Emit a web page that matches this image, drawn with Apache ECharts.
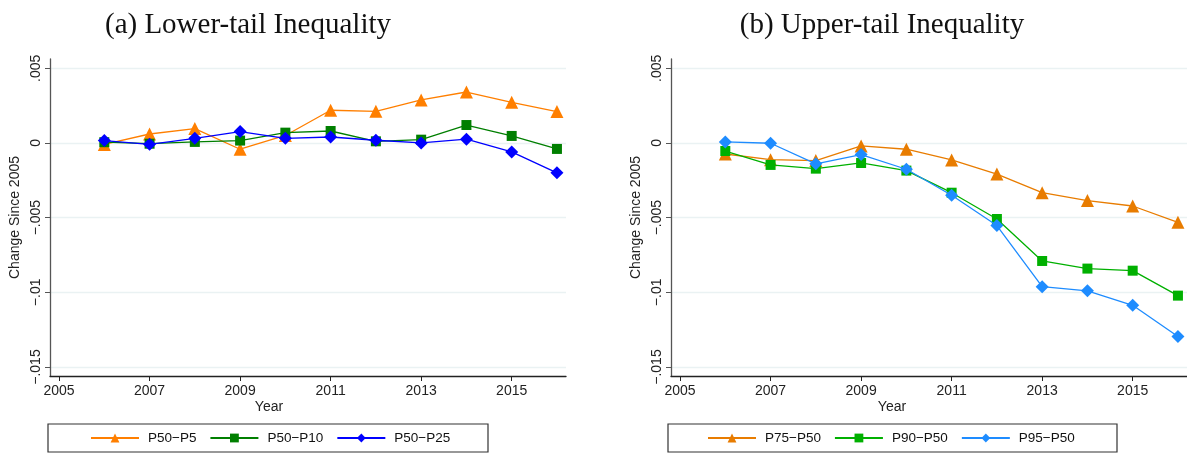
<!DOCTYPE html>
<html><head><meta charset="utf-8">
<script src="https://cdn.jsdelivr.net/npm/echarts@6/dist/echarts.min.js"></script>
<style>html,body{margin:0;padding:0;background:#fff}#c{width:1187px;height:453px}</style>
</head><body><div id="c"></div>
<script>
const years = [2006,2007,2008,2009,2010,2011,2012,2013,2014,2015,2016];
const xTicks = [2005,2007,2009,2011,2013,2015];
const yTicks = [-0.015,-0.01,-0.005,0,0.005];
const yTickLabels = ['\u2212.015','\u2212.01','\u2212.005','0','.005'];

const p50p5  = [-0.0001,0.0006,0.00096,-0.00042,0.0005,0.00219,0.00212,0.00288,0.00341,0.00272,0.0021];
const p50p10 = [0.00005,-0.00005,0.00007,0.00016,0.00069,0.0008,0.00011,0.00022,0.0012,0.00047,-0.0004];
const p50p25 = [0.00016,-0.00009,0.00031,0.00076,0.00031,0.0004,0.00018,0.0,0.00025,-0.0006,-0.002];

const p75p50 = [-0.00074,-0.00112,-0.00118,-0.0002,-0.00042,-0.00114,-0.00208,-0.00333,-0.00386,-0.00422,-0.00531];
const p90p50 = [-0.00054,-0.00147,-0.00172,-0.00134,-0.00185,-0.00333,-0.00509,-0.0079,-0.00841,-0.00855,-0.01022];
const p95p50 = [0.00007,-0.00002,-0.0014,-0.00078,-0.00176,-0.0035,-0.00553,-0.00962,-0.0099,-0.01087,-0.01296];

const titles = ['(a) Lower-tail Inequality','(b) Upper-tail Inequality'];
const names = [['P50\u2212P5','P50\u2212P10','P50\u2212P25'],['P75\u2212P50','P90\u2212P50','P95\u2212P50']];
const values = [[p50p5,p50p10,p50p25],[p75p50,p90p50,p95p50]];
const colors = [['#ff7f00','#007f00','#0000ff'],['#e87c00','#00b000','#1e8cff']];
const symbols = ['triangle','rect','diamond'];
const symSizes = [13,10,13];

const chart = echarts.init(document.getElementById('c'));
const font = 'Liberation Sans, Arial, sans-serif';
const grids = [{left:50,top:59,width:516,height:317},{left:671,top:59,width:516,height:317}];
const xAxes = [], yAxes = [], series = [], legends = [], graphics = [];
const titleX = [248, 882];
const yearX = [269, 892];
const boxes = [[48,424,440,28],[668,424,449,28]];
const legendLeft = [90, 707];

for (let g=0; g<2; g++) {
  xAxes.push({type:'value',gridIndex:g,min:2004.8,max:2016.2,
    axisLine:{show:true,onZero:false,lineStyle:{color:'#222',width:1.3}},
    axisTick:{show:true,length:5,customValues:xTicks,lineStyle:{color:'#222'}},
    axisLabel:{customValues:xTicks,color:'#222',fontSize:14,fontFamily:font,margin:8,formatter:v=>String(v)},
    splitLine:{show:false}});
  yAxes.push({type:'value',gridIndex:g,min:-0.0156,max:0.00562,
    name:'Change Since 2005',nameLocation:'middle',nameGap:28,
    nameTextStyle:{color:'#222',fontSize:14,fontFamily:font},
    axisLine:{show:true,onZero:false,lineStyle:{color:'#555',width:1.3}},
    axisTick:{show:true,length:5,customValues:yTicks,lineStyle:{color:'#555'}},
    axisLabel:{customValues:yTicks,rotate:90,color:'#222',fontSize:14,fontFamily:font,margin:7,
      formatter:v=>{const i=yTicks.findIndex(t=>Math.abs(t-v)<1e-9);return i>=0?yTickLabels[i]:'';}},
    splitLine:{show:true,lineStyle:{color:'#eaf2f3',width:1.3}}});
  for (let s=0; s<3; s++) {
    series.push({type:'line',name:names[g][s],xAxisIndex:g,yAxisIndex:g,
      data:years.map((y,i)=>[y,values[g][s][i]]),
      symbol:symbols[s],symbolSize:symSizes[s],
      lineStyle:{color:colors[g][s],width:1.3},itemStyle:{color:colors[g][s]},
      showSymbol:true,animation:false,z:3+s});
  }
  const b = boxes[g];
  legends.push({data:names[g],left:legendLeft[g],top:b[1]+7,width:b[0]+b[2]-legendLeft[g],padding:0,
    orient:'horizontal',itemWidth:48,itemHeight:11,itemGap:13,
    textStyle:{fontSize:13.5,fontFamily:font,color:'#111',padding:[0,0,0,4]}});
  graphics.push({type:'rect',shape:{x:b[0],y:b[1],width:b[2],height:b[3]},style:{fill:'none',stroke:'#333',lineWidth:1.2}});
  graphics.push({type:'text',x:titleX[g],y:25,style:{text:titles[g],font:'29px "Liberation Serif", "DejaVu Serif", serif',fill:'#111',textAlign:'center',textVerticalAlign:'middle'}});
  graphics.push({type:'text',x:yearX[g],y:400,style:{text:'Year',font:'14px '+font,fill:'#222',textAlign:'center',textVerticalAlign:'top'}});
}
chart.setOption({animation:false,grid:grids,xAxis:xAxes,yAxis:yAxes,series:series,legend:legends,graphic:graphics});
</script></body></html>
